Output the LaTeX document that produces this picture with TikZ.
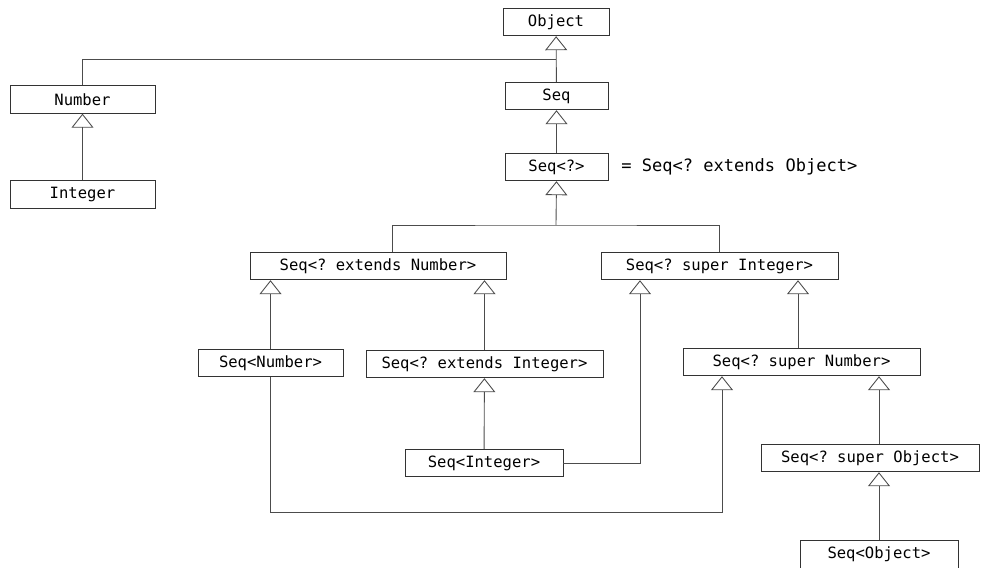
\documentclass[tikz,border=0pt]{standalone}
\usepackage{fontspec}
\setmonofont{DejaVu Sans Mono}
\usetikzlibrary{arrows.meta,calc,positioning}
\tikzset{cls/.style={draw=black!80,line width=0.5pt,fill=white,minimum height=0.55cm,inner sep=0pt,
    font=\ttfamily\fontsize{8.85}{10}\selectfont},
  link/.style={black!70,line width=0.5pt},
  isa/.style={link,-{Triangle[open,length=0.28cm,width=0.44cm]}}}

\begin{document}
\begin{tikzpicture}[x=0.02cm,y=-0.02cm]
\useasboundingbox (0,0) rectangle (988,568);
% classes
\node[cls,minimum width=2.12cm] (obj) at (556,22){Object};
\node[cls,minimum width=2.9cm] (num) at (82.5,99.5){Number};
\node[cls,minimum width=2.9cm] (int) at (82.5,194.5){Integer};
\node[cls,minimum width=2.06cm] (seq) at (556.5,96){Seq};
\node[cls,minimum width=2.06cm] (seqw) at (556.5,167){Seq<?>};
\node[anchor=west,font=\ttfamily\fontsize{9.7}{11}\selectfont,inner sep=0pt] (eqlab) at (621,167){= Seq<? extends Object>};
\node[cls,minimum width=5.12cm] (extnum) at (378,266){Seq<? extends Number>};
\node[cls,minimum width=4.74cm] (supint) at (719.5,266){Seq<? super Integer>};
\node[cls,minimum width=2.9cm] (seqnum) at (270.5,363){Seq<Number>};
\node[cls,minimum width=4.74cm] (extint) at (484.5,364){Seq<? extends Integer>};
\node[cls,minimum width=4.74cm] (supnum) at (801.5,362){Seq<? super Number>};
\node[cls,minimum width=3.16cm] (seqint) at (484,463){Seq<Integer>};
\node[cls,minimum width=4.36cm] (supobj) at (870,458){Seq<? super Object>};
\node[cls,minimum width=3.16cm] (seqobj) at (879,554.5){Seq<Object>};
% bend points
\coordinate (top) at (556,59);
\coordinate (mid) at (556,225);
\coordinate (lowl) at (722,512);
\coordinate (lowr) at (640,463);
% inheritance
\draw[isa] (seq) -- (obj);
\draw[link] (num.north) |- (top);
\draw[isa] (int) -- (num);
\draw[isa] (seqw) -- (seq);
\draw[link] ([xshift=0.28cm]extnum.north) |- (mid) -| (supint.north);
\draw[isa] (mid) -- (seqw.south);
\draw[isa] (seqnum.north) -- (extnum.south -| seqnum.north);
\draw[isa] (extint.north) -- (extnum.south -| extint.north);
\draw[isa] (seqint) -- (extint);
\draw[isa] (seqint.east) -| (supint.south -| lowr);
\draw[isa] (supnum.north -| 798,0) -- (supint.south -| 798,0);
\draw[isa] (seqnum.south) |- (lowl) -- (supnum.south -| lowl);
\draw[isa] (supobj.north -| seqobj.north) -- (supnum.south -| seqobj.north);
\draw[isa] (seqobj.north) -- (supobj.south -| seqobj.north);
\end{tikzpicture}
\end{document}
